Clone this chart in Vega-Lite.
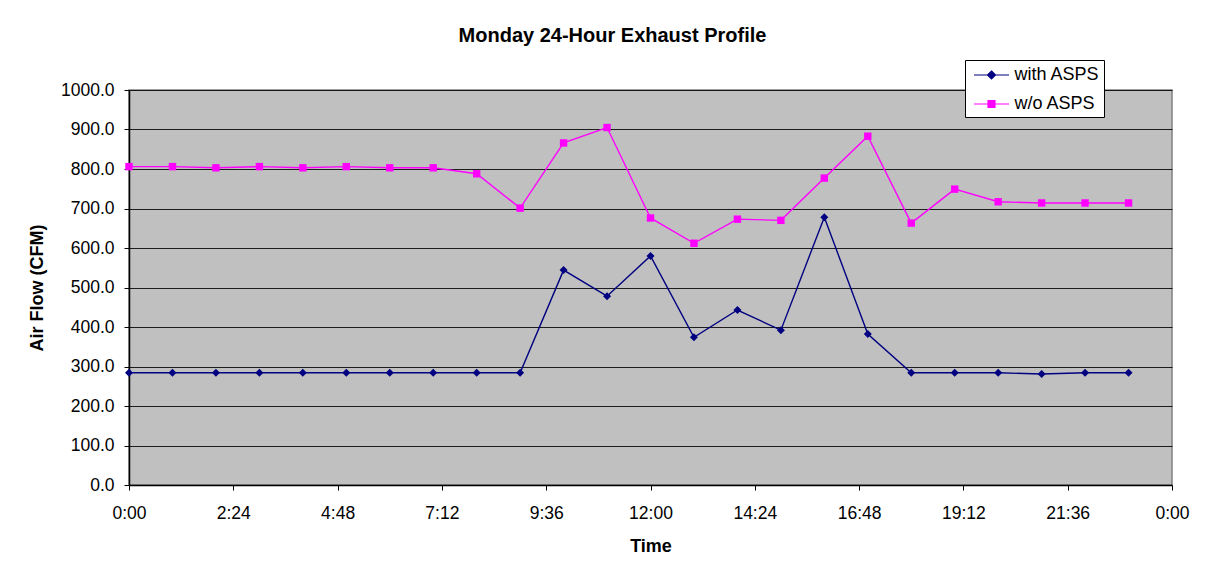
{
  "$schema": "https://vega.github.io/schema/vega-lite/v6.json",
  "width": 1043,
  "height": 395,
  "autosize": {"type": "none"},
  "padding": {"left": 129, "top": 90, "right": 40, "bottom": 90},
  "background": "white",
  "title": {
    "text": "Monday 24-Hour Exhaust Profile",
    "font": "Liberation Sans",
    "fontSize": 20,
    "fontWeight": "bold",
    "color": "black",
    "anchor": "middle",
    "dx": -38,
    "offset": 14
  },
  "config": {
    "view": {"fill": "#C0C0C0", "stroke": "#808080", "strokeWidth": 1.5},
    "font": "Liberation Sans"
  },
  "data": {
    "values": [
      {"hour": 0, "series": "with ASPS", "flow": 284},
      {"hour": 1, "series": "with ASPS", "flow": 284},
      {"hour": 2, "series": "with ASPS", "flow": 284},
      {"hour": 3, "series": "with ASPS", "flow": 284},
      {"hour": 4, "series": "with ASPS", "flow": 284},
      {"hour": 5, "series": "with ASPS", "flow": 284},
      {"hour": 6, "series": "with ASPS", "flow": 284},
      {"hour": 7, "series": "with ASPS", "flow": 284},
      {"hour": 8, "series": "with ASPS", "flow": 284},
      {"hour": 9, "series": "with ASPS", "flow": 284},
      {"hour": 10, "series": "with ASPS", "flow": 544},
      {"hour": 11, "series": "with ASPS", "flow": 478},
      {"hour": 12, "series": "with ASPS", "flow": 580},
      {"hour": 13, "series": "with ASPS", "flow": 374},
      {"hour": 14, "series": "with ASPS", "flow": 443},
      {"hour": 15, "series": "with ASPS", "flow": 392},
      {"hour": 16, "series": "with ASPS", "flow": 678},
      {"hour": 17, "series": "with ASPS", "flow": 382},
      {"hour": 18, "series": "with ASPS", "flow": 284},
      {"hour": 19, "series": "with ASPS", "flow": 284},
      {"hour": 20, "series": "with ASPS", "flow": 284},
      {"hour": 21, "series": "with ASPS", "flow": 281},
      {"hour": 22, "series": "with ASPS", "flow": 284},
      {"hour": 23, "series": "with ASPS", "flow": 284},
      {"hour": 0, "series": "w/o ASPS", "flow": 806},
      {"hour": 1, "series": "w/o ASPS", "flow": 806},
      {"hour": 2, "series": "w/o ASPS", "flow": 803},
      {"hour": 3, "series": "w/o ASPS", "flow": 806},
      {"hour": 4, "series": "w/o ASPS", "flow": 803},
      {"hour": 5, "series": "w/o ASPS", "flow": 806},
      {"hour": 6, "series": "w/o ASPS", "flow": 803},
      {"hour": 7, "series": "w/o ASPS", "flow": 803},
      {"hour": 8, "series": "w/o ASPS", "flow": 788},
      {"hour": 9, "series": "w/o ASPS", "flow": 701},
      {"hour": 10, "series": "w/o ASPS", "flow": 866},
      {"hour": 11, "series": "w/o ASPS", "flow": 905},
      {"hour": 12, "series": "w/o ASPS", "flow": 676},
      {"hour": 13, "series": "w/o ASPS", "flow": 612},
      {"hour": 14, "series": "w/o ASPS", "flow": 673},
      {"hour": 15, "series": "w/o ASPS", "flow": 670},
      {"hour": 16, "series": "w/o ASPS", "flow": 777},
      {"hour": 17, "series": "w/o ASPS", "flow": 883},
      {"hour": 18, "series": "w/o ASPS", "flow": 663},
      {"hour": 19, "series": "w/o ASPS", "flow": 749},
      {"hour": 20, "series": "w/o ASPS", "flow": 717},
      {"hour": 21, "series": "w/o ASPS", "flow": 714},
      {"hour": 22, "series": "w/o ASPS", "flow": 714},
      {"hour": 23, "series": "w/o ASPS", "flow": 714}
    ]
  },
  "encoding": {
    "x": {
      "field": "hour",
      "type": "quantitative",
      "scale": {"domain": [0, 24], "nice": false, "zero": false},
      "axis": {
        "title": "Time",
        "values": [0, 2.4, 4.8, 7.2, 9.6, 12, 14.4, 16.8, 19.2, 21.6, 24],
        "labelExpr": "datum.value >= 24 ? '0:00' : floor(datum.value) + ':' + (round((datum.value % 1) * 60) < 10 ? '0' : '') + round((datum.value % 1) * 60)",
        "labelFlush": false,
        "labelOverlap": false,
        "grid": false,
        "domainColor": "black",
        "domainWidth": 1.5,
        "tickColor": "black",
        "tickSize": 5,
        "labelFont": "Liberation Sans",
        "labelFontSize": 17.5,
        "labelColor": "black",
        "labelPadding": 14,
        "titleFont": "Liberation Sans",
        "titleFontSize": 18,
        "titleFontWeight": "bold",
        "titleColor": "black",
        "titlePadding": 16
      }
    },
    "y": {
      "field": "flow",
      "type": "quantitative",
      "scale": {"domain": [0, 1000], "nice": false},
      "axis": {
        "title": "Air Flow (CFM)",
        "values": [0, 100, 200, 300, 400, 500, 600, 700, 800, 900, 1000],
        "format": ".1f",
        "grid": true,
        "gridColor": "black",
        "gridWidth": 1,
        "gridOpacity": 0.85,
        "domainColor": "black",
        "domainWidth": 1.5,
        "tickColor": "black",
        "tickSize": 5,
        "labelFont": "Liberation Sans",
        "labelFontSize": 17.5,
        "labelColor": "black",
        "labelPadding": 10,
        "titleFont": "Liberation Sans",
        "titleFontSize": 18,
        "titleFontWeight": "bold",
        "titleColor": "black",
        "titlePadding": 14
      }
    },
    "color": {
      "field": "series",
      "type": "nominal",
      "scale": {"domain": ["with ASPS", "w/o ASPS"], "range": ["#000080", "#FF00FF"]},
      "legend": {
        "title": null,
        "orient": "none",
        "legendX": 836,
        "legendY": -30,
        "fillColor": "white",
        "strokeColor": "black",
        "padding": 4,
        "rowPadding": 9,
        "symbolSize": 400,
        "symbolOffset": 11.5,
        "symbolStrokeWidth": 1.2,
        "labelFont": "Liberation Sans",
        "labelFontSize": 18,
        "labelColor": "black",
        "labelOffset": 12,
        "encode": {
          "symbols": {
            "update": {
              "shape": {"signal": "datum.value === 'with ASPS' ? 'M-1.75,0L1.75,0M0,-0.4L0.4,0L0,0.4L-0.4,0Z' : 'M-1.75,0L1.75,0M-0.35,-0.35L0.35,-0.35L0.35,0.35L-0.35,0.35Z'"},
              "fill": {"signal": "datum.value === 'with ASPS' ? '#000080' : '#FF00FF'"},
              "stroke": {"signal": "datum.value === 'with ASPS' ? '#000080' : '#FF00FF'"},
              "opacity": {"value": 1},
              "fillOpacity": {"value": 1}
            }
          }
        }
      }
    }
  },
  "layer": [
    {
      "mark": {"type": "line", "strokeWidth": 1.4}
    },
    {
      "transform": [{"filter": "datum.series === 'with ASPS'"}],
      "mark": {"type": "point", "shape": "diamond", "filled": true, "size": 64, "opacity": 1}
    },
    {
      "transform": [{"filter": "datum.series === 'w/o ASPS'"}],
      "mark": {"type": "point", "shape": "square", "filled": true, "size": 55, "opacity": 1}
    }
  ]
}
